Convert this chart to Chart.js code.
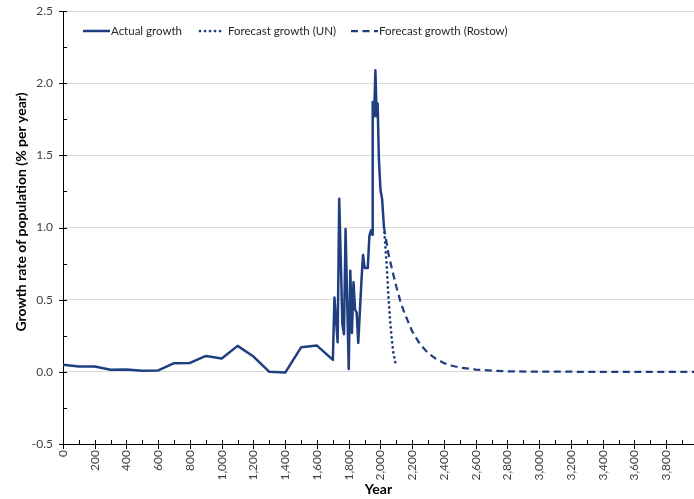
<!DOCTYPE html>
<html><head><meta charset="utf-8">
<script src="https://cdn.jsdelivr.net/npm/chart.js@4.4.0/dist/chart.umd.min.js"></script>
<style>html,body{margin:0;padding:0;background:#fff}canvas{display:block}</style>
</head><body>
<canvas id="c" width="694" height="499"></canvas>
<script>
// ---- data ----
const seriesNames = ['Actual growth', 'Forecast growth (UN)', 'Forecast growth (Rostow)'];
const xTitle = 'Year';
const yTitle = 'Growth rate of population (% per year)';

const actualYears = [0,100,200,300,400,500,600,700,800,900,1000,1100,1200,1300,1400,1500,1600,1700,1710,1730,1740,1760,1770,1780,1800,1810,1820,1830,1840,1850,1860,1880,1890,1900,1920,1930,1940,1948,1951,1960,1968,1976,1982,1990,2000,2010,2022];
const actualRates = [0.05,0.037,0.037,0.014,0.016,0.007,0.01,0.06,0.062,0.11,0.092,0.18,0.106,0.0,-0.005,0.17,0.182,0.083,0.515,0.205,1.20,0.33,0.26,0.99,0.02,0.70,0.27,0.62,0.43,0.41,0.2,0.63,0.81,0.72,0.72,0.94,0.98,0.95,1.87,1.77,2.09,1.77,1.86,1.47,1.26,1.2,1.0];

const unYears = [2022,2030,2040,2050,2060,2070,2080,2095];
const unRates = [1.0,0.88,0.72,0.52,0.36,0.24,0.14,0.055];

const rostowYears = [2022,2050,2075,2100,2125,2150,2200,2250,2300,2350,2400,2450,2500,2600,2700,2800,3000,3500,4000];
const rostowRates = [1.0,0.82,0.7,0.59,0.49,0.41,0.28,0.19,0.13,0.09,0.06,0.042,0.03,0.016,0.008,0.004,0.001,0,0];

const xTicks = [0,200,400,600,800,1000,1200,1400,1600,1800,2000,2200,2400,2600,2800,3000,3200,3400,3600,3800];
const yTicks = [-0.5,0,0.5,1.0,1.5,2.0,2.5];

// ---- build ----
const navy = '#203f80';
const pts = (xs, ys) => xs.map((x, i) => ({x: x, y: ys[i]}));

const legendPos = [
  {x0: 83, x1: 110, tx: 111},
  {x0: 200, x1: 222, tx: 228},
  {x0: 351, x1: 378, tx: 379}
];

const decor = {
  id: 'decor',
  afterDraw(chart) {
    const {ctx, chartArea: a, scales: {x, y}} = chart;
    ctx.save();
    ctx.strokeStyle = '#000';
    ctx.lineWidth = 1;
    ctx.setLineDash([]);
    // y-axis tick marks
    for (let v = -0.5; v <= 2.5001; v += 0.25) {
      const py = Math.round(y.getPixelForValue(v)) + 0.5;
      const major = Math.abs(v * 2 - Math.round(v * 2)) < 1e-6;
      ctx.beginPath();
      ctx.moveTo(a.left - (major ? 4 : 0), py);
      ctx.lineTo(a.left + 4, py);
      ctx.stroke();
    }
    // x-axis tick marks
    for (let v = 0; v <= x.max; v += 100) {
      const px = Math.round(x.getPixelForValue(v)) + 0.5;
      const major = v % 200 === 0;
      ctx.beginPath();
      ctx.moveTo(px, a.bottom - 4);
      ctx.lineTo(px, a.bottom + (major ? 5 : 0));
      ctx.stroke();
    }
    // y-axis title
    ctx.save();
    ctx.translate(21, 212);
    ctx.rotate(-Math.PI / 2);
    ctx.fillStyle = '#000';
    ctx.font = 'bold 14px Lato';
    ctx.textAlign = 'center';
    ctx.textBaseline = 'middle';
    ctx.fillText(yTitle, 0, 0);
    ctx.restore();
    // legend inside plot area
    const ly = 31;
    chart.data.datasets.forEach((ds, i) => {
      const p = legendPos[i];
      ctx.save();
      ctx.strokeStyle = ds.borderColor;
      ctx.lineWidth = ds.borderWidth;
      ctx.lineCap = ds.borderCapStyle || 'butt';
      ctx.setLineDash(ds.borderDash || []);
      ctx.beginPath();
      ctx.moveTo(p.x0, ly);
      ctx.lineTo(p.x1, ly);
      ctx.stroke();
      ctx.restore();
      ctx.fillStyle = '#262626';
      ctx.font = '11.5px Lato';
      ctx.textBaseline = 'middle';
      ctx.textAlign = 'left';
      ctx.fillText(ds.label, p.tx, ly);
    });
    ctx.restore();
  }
};

new Chart(document.getElementById('c'), {
  type: 'line',
  data: {
    datasets: [
      {label: seriesNames[0], data: pts(actualYears, actualRates), borderColor: navy, borderWidth: 2.5, pointRadius: 0, tension: 0, borderJoinStyle: 'round'},
      {label: seriesNames[1], data: pts(unYears, unRates), borderColor: navy, borderWidth: 2.75, pointRadius: 0, borderDash: [0.01, 5], borderCapStyle: 'round'},
      {label: seriesNames[2], data: pts(rostowYears, rostowRates), borderColor: navy, borderWidth: 2.25, pointRadius: 0, borderDash: [7, 4.5]}
    ]
  },
  options: {
    responsive: false,
    animation: false,
    layout: {padding: {left: 0, right: 0, top: 11, bottom: 0}},
    plugins: {legend: {display: false}, tooltip: {enabled: false}},
    scales: {
      x: {
        type: 'linear', min: 0, max: 3975,
        afterBuildTicks: s => { s.ticks = xTicks.map(v => ({value: v})); },
        afterFit: s => { s.height = 55; s.paddingLeft = 0; s.paddingRight = 0; },
        ticks: {autoSkip: false, minRotation: 90, maxRotation: 90, padding: 6,
          font: {family: 'Lato', size: 12}, color: '#404040',
          callback: v => Number(v).toLocaleString('en-US')},
        grid: {display: false, drawTicks: false},
        border: {color: '#000', width: 1},
        title: {display: true, text: xTitle, font: {family: 'Lato', size: 14, weight: 'bold'}, color: '#000', padding: {top: 0, bottom: 1}}
      },
      y: {
        min: -0.5, max: 2.5,
        afterBuildTicks: s => { s.ticks = yTicks.map(v => ({value: v})); },
        afterFit: s => { s.width = 63; s.paddingTop = 0; s.paddingBottom = 0; },
        ticks: {padding: 10, font: {family: 'Lato', size: 12}, color: '#404040',
          callback: v => Number(v).toFixed(1)},
        grid: {drawTicks: false, color: c => (c.tick && c.tick.value === -0.5) ? 'rgba(0,0,0,0)' : '#d9d9d9', lineWidth: 1},
        border: {color: '#000', width: 1},
        title: {display: false}
      }
    }
  },
  plugins: [decor]
});
</script>
</body></html>
